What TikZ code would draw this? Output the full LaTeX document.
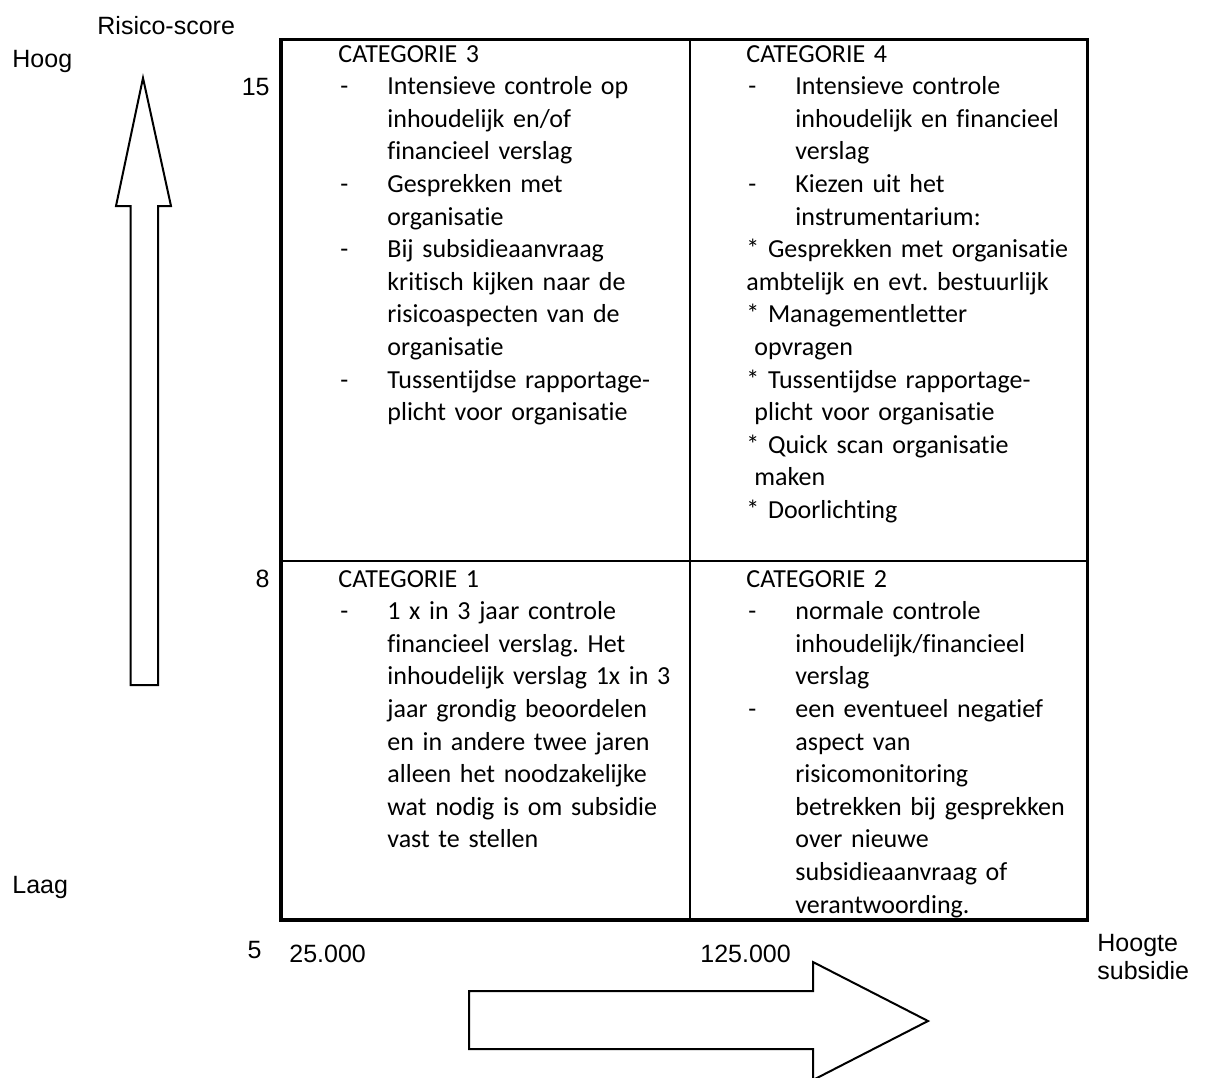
\documentclass[tikz,border=0pt]{standalone}
\usepackage{fontspec}
\setmainfont{Carlito}[Ligatures=NoCommon]
\newfontfamily\arialf{Liberation Sans}
\frenchspacing
\newcommand\dsh{\makebox[24.5pt][l]{\hspace{1pt}-}}
\newcommand\ind{\hspace*{24.5pt}}
\newcommand\sind{\hspace*{4pt}}
\newcommand\bulstar{{*}}
\tikzset{
  cell/.style={anchor=base west, inner sep=0pt, text width=220pt, align=left,
    font=\fontsize{13pt}{16.3pt}\selectfont},
  axlabel/.style={inner sep=0pt, font=\arialf\fontsize{12.5pt}{14pt}\selectfont},
  outer/.style={line width=1.75pt},
  inner/.style={line width=1pt},
  bigarrow/.style={draw, line width=1pt, fill=white, line join=miter}
}
\begin{document}
\begin{tikzpicture}[x=0.5pt,y=-0.5pt]
\useasboundingbox (0,0) rectangle (1205,1077);
\clip (0,0) rectangle (1205,1077);
% table grid
\coordinate (tl) at (281,39.5);
\coordinate (br) at (1087.5,920);
\draw[inner] (690,39.5) -- (690,920);
\draw[inner] (281,560.5) -- (1087.5,560.5);
\draw[outer] (tl) rectangle (br);
% cells
\node[cell] (c3) at (338,62) {CATEGORIE 3\\
\dsh Intensieve controle op\\
\ind inhoudelijk en/of\\
\ind financieel verslag\\
\dsh Gesprekken met\\
\ind organisatie\\
\dsh Bij subsidieaanvraag\\
\ind kritisch kijken naar de\\
\ind risicoaspecten van de\\
\ind organisatie\\
\dsh Tussentijdse rapportage-\\
\ind plicht voor organisatie};
\node[cell] (c4) at (746,62) {CATEGORIE 4\\
\dsh Intensieve controle\\
\ind inhoudelijk en financieel\\
\ind verslag\\
\dsh Kiezen uit het\\
\ind instrumentarium:\\
\bulstar{} Gesprekken met organisatie\\
ambtelijk en evt. bestuurlijk\\
\bulstar{} Managementletter\\
\sind opvragen\\
\bulstar{} Tussentijdse rapportage-\\
\sind plicht voor organisatie\\
\bulstar{} Quick scan organisatie\\
\sind maken\\
\bulstar{} Doorlichting};
\node[cell] (c1) at (338,587) {CATEGORIE 1\\
\dsh 1 x in 3 jaar controle\\
\ind financieel verslag. Het\\
\ind inhoudelijk verslag 1x in 3\\
\ind jaar grondig beoordelen\\
\ind en in andere twee jaren\\
\ind alleen het noodzakelijke\\
\ind wat nodig is om subsidie\\
\ind vast te stellen};
\node[cell] (c2) at (746,587) {CATEGORIE 2\\
\dsh normale controle\\
\ind inhoudelijk/financieel\\
\ind verslag\\
\dsh een eventueel negatief\\
\ind aspect van\\
\ind risicomonitoring\\
\ind betrekken bij gesprekken\\
\ind over nieuwe\\
\ind subsidieaanvraag of\\
\ind verantwoording.};
% axis labels
\node[axlabel, anchor=base west] (rs) at (97,34) {Risico-score};
\node[axlabel, anchor=base west] (hoog) at (12,67) {Hoog};
\node[axlabel, anchor=base west] (laag) at (12,893) {Laag};
\node[axlabel, anchor=base east] (v15) at (270,95) {15};
\node[axlabel, anchor=base east] (v8) at (270,587) {8};
\node[axlabel, anchor=base east] (v5) at (262,958) {5};
\node[axlabel, anchor=base west] (x25) at (289,962) {25.000};
\node[axlabel, anchor=base west] (x125) at (700,962) {125.000};
\node[axlabel, anchor=base west] (hs1) at (1097,951) {Hoogte};
\node[axlabel, anchor=base west] (hs2) at (1097,979) {subsidie};
% arrows
\draw[bigarrow] (143,78) -- (171,206) -- (158,206) -- (158,685) -- (130.5,685) -- (130.5,206) -- (116,206) -- cycle;
\draw[bigarrow] (469,991) -- (813,991) -- (813,962) -- (928,1021) -- (813,1080) -- (813,1049) -- (469,1049) -- cycle;
\end{tikzpicture}
\end{document}
